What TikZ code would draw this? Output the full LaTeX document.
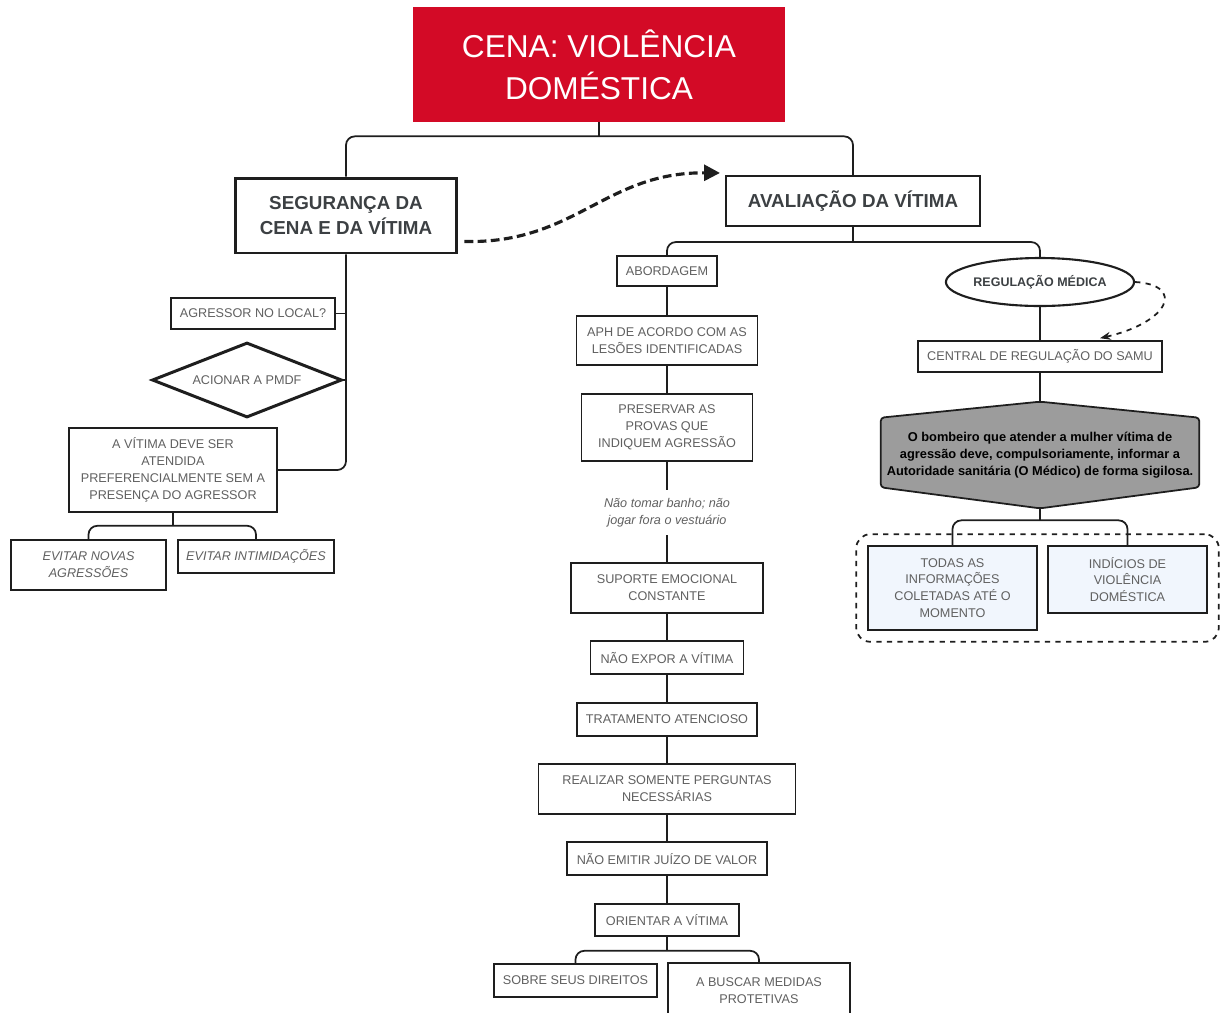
\documentclass[tikz,border=0pt]{standalone}
\usepackage{fontspec}
\setmainfont{Liberation Sans}
\usetikzlibrary{arrows.meta, positioning, shapes.geometric, calc, fit, backgrounds}

\definecolor{cenared}{HTML}{D30A26}
\definecolor{txtgray}{HTML}{606060}
\definecolor{headgray}{HTML}{3C4043}
\definecolor{hexgray}{HTML}{9C9C9C}
\definecolor{paleblue}{HTML}{F1F6FD}
\definecolor{linec}{HTML}{1E1E1E}

\newcommand{\lblfont}{\fontsize{7.2}{9.6}\selectfont}
\newcommand{\headfont}{\fontsize{10.7}{14.7}\selectfont\bfseries}

\begin{document}
\begin{tikzpicture}[x=0.02cm, y=-0.02cm, >=Stealth,
  lbl/.style={draw=linec, line width=0.9pt, fill=white, font=\lblfont,
              text=txtgray, align=center, inner sep=1pt},
  head/.style={draw=linec, line width=1.7pt, fill=white, font=\headfont,
               text=headgray, align=center},
  conn/.style={draw=linec, line width=1pt},
  elbow/.style={conn, rounded corners=5pt}]

  \useasboundingbox (0,0) rectangle (1220,1012);
  \clip (0,0) rectangle (1220,1012);

  % title and the two main branches
  \node[fill=cenared, minimum width=7.44cm, minimum height=2.3cm,
        text=white, font=\fontsize{18}{23.8}\selectfont,
        align=center] (title) at (599,64.5) {CENA: VIOLÊNCIA\\DOMÉSTICA};
  \node[head, minimum width=4.44cm, minimum height=1.5cm] (seg)
    at (346,215.5) {SEGURANÇA DA\\CENA E DA VÍTIMA};
  \node[head, line width=1.2pt, minimum width=5.08cm,
        minimum height=1cm] (aval) at (853,201) {AVALIAÇÃO DA VÍTIMA};

  % left column
  \node[lbl, minimum width=3.28cm, minimum height=0.62cm] (agr)
    at (253,313.5) {AGRESSOR NO LOCAL?};
  \node[lbl, diamond, aspect=2.5, line width=1.7pt, minimum width=3.8cm,
        minimum height=1.5cm, inner sep=0pt] (pmdf)
    at (247,380) {ACIONAR A PMDF};
  \node[lbl, minimum width=4.16cm, minimum height=1.68cm] (vit)
    at (173,470)
    {A VÍTIMA DEVE SER\\ATENDIDA\\PREFERENCIALMENTE SEM A\\PRESENÇA DO AGRESSOR};
  \node[lbl, font=\lblfont\itshape, minimum width=3.1cm,
        minimum height=1cm] (evn) at (88.5,565) {EVITAR NOVAS\\AGRESSÕES};
  \node[lbl, font=\lblfont\itshape, minimum width=3.12cm,
        minimum height=0.66cm] (evi) at (256,556.5) {EVITAR INTIMIDAÇÕES};

  % middle column
  \node[lbl, minimum width=2cm, minimum height=0.6cm] (abord)
    at (667,271) {ABORDAGEM};
  \node[lbl, minimum width=3.62cm, minimum height=0.98cm] (aph)
    at (667,340.5) {APH DE ACORDO COM AS\\LESÕES IDENTIFICADAS};
  \node[lbl, minimum width=3.42cm, minimum height=1.34cm] (pres)
    at (667,427.5) {PRESERVAR AS\\PROVAS QUE\\INDIQUEM AGRESSÃO};
  \node[font=\lblfont\itshape, text=txtgray, align=center,
        minimum height=0.9cm, inner sep=0pt] (nota)
    at (667,512.5) {Não tomar banho; não\\jogar fora o vestuário};
  \node[lbl, minimum width=3.84cm, minimum height=1cm] (sup)
    at (667,588) {SUPORTE EMOCIONAL\\CONSTANTE};
  \node[lbl, minimum width=3.06cm, minimum height=0.66cm] (nexp)
    at (667,657.5) {NÃO EXPOR A VÍTIMA};
  \node[lbl, minimum width=3.6cm, minimum height=0.66cm] (trat)
    at (667,719.5) {TRATAMENTO ATENCIOSO};
  \node[lbl, minimum width=5.14cm, minimum height=1cm] (real)
    at (667,789) {REALIZAR SOMENTE PERGUNTAS\\NECESSÁRIAS};
  \node[lbl, minimum width=4cm, minimum height=0.66cm] (nemi)
    at (667,858.5) {NÃO EMITIR JUÍZO DE VALOR};
  \node[lbl, minimum width=2.88cm, minimum height=0.64cm] (ori)
    at (667,920) {ORIENTAR A VÍTIMA};
  \node[lbl, minimum width=3.26cm, minimum height=0.66cm] (sobre)
    at (575.5,980.5) {SOBRE SEUS DIREITOS};
  \node[lbl, minimum width=3.64cm, minimum height=1.12cm] (busc)
    at (759,991) {A BUSCAR MEDIDAS\\PROTETIVAS};

  % right column
  \node[head, ellipse, line width=1.2pt,
        font=\fontsize{7.1}{9}\selectfont\bfseries, minimum width=3.72cm,
        minimum height=0.96cm, inner sep=0pt] (reg)
    at (1040,282) {REGULAÇÃO MÉDICA};
  \node[lbl, minimum width=4.88cm, minimum height=0.62cm] (cent)
    at (1040,356.5) {CENTRAL DE REGULAÇÃO DO SAMU};
  \node[font=\fontsize{7.3}{9.6}\selectfont\bfseries, text=black,
        align=center, minimum width=6.36cm, minimum height=2.12cm,
        inner sep=0pt] (hex) at (1040,455)
    {O bombeiro que atender a mulher vítima de\\agressão deve,
     compulsoriamente, informar a\\Autoridade sanitária (O Médico) de
     forma sigilosa.};
  \begin{scope}[on background layer]
    \draw[draw=linec, fill=hexgray, line width=1pt, rounded corners=2pt]
      ($(hex.north west)+(0,16)$) -- (hex.north)
      -- ($(hex.north east)+(0,16)$) -- ($(hex.south east)+(0,-21)$)
      -- (hex.south) -- ($(hex.south west)+(0,-21)$) -- cycle;
  \end{scope}
  \node[lbl, fill=paleblue, minimum width=3.38cm, minimum height=1.68cm]
    (todas) at (952.5,588)
    {TODAS AS\\INFORMAÇÕES\\COLETADAS ATÉ O\\MOMENTO};
  \node[lbl, fill=paleblue, minimum width=3.18cm, minimum height=1.34cm]
    (ind) at (1127.5,579.5) {INDÍCIOS DE\\VIOLÊNCIA\\DOMÉSTICA};
  \node[draw=linec, dashed, line width=1pt, rounded corners=8pt,
        fit=(todas)(ind), inner sep=0.22cm] (grp) {};

  % connectors
  \draw[conn] (title.south) -- ++(0,14) coordinate (tj);
  \draw[elbow] (seg.north) |- (tj) -| (aval.north);
  \draw[linec, line width=1.8pt, dash pattern=on 5pt off 2.5pt,
        -{Triangle[length=9pt, width=9pt]}]
    ($(seg.south east)+(6,-13)$) .. controls (575,244) and (605,172)
    .. ($(aval.north west)+(-5,-2)$);

  \draw[elbow] (seg.south) |- (vit.east);
  \draw[conn] (agr.east) -- (agr.east -| seg.south);
  \draw[conn] (pmdf.east) -- (pmdf.east -| seg.south);
  \draw[conn] (vit.south) -- ++(0,13) coordinate (vj);
  \draw[elbow] (evn.north) |- (vj) -| (evi.north);

  \draw[conn] (aval.south) -- ++(0,15) coordinate (aj);
  \draw[elbow] (abord.north) |- (aj) -| (reg.north);
  \draw[conn] (abord) -- (aph);
  \draw[conn] (aph) -- (pres);
  \draw[conn] (pres) -- (nota);
  \draw[conn] (nota) -- (sup);
  \draw[conn] (sup) -- (nexp);
  \draw[conn] (nexp) -- (trat);
  \draw[conn] (trat) -- (real);
  \draw[conn] (real) -- (nemi);
  \draw[conn] (nemi) -- (ori);
  \draw[conn] (ori.south) -- ++(0,14) coordinate (oj);
  \draw[elbow] (sobre.north) |- (oj) -| (busc.north);

  \draw[conn] (reg) -- (cent);
  \draw[linec, line width=1pt, dashed, -{Stealth[length=6pt]}]
    (reg.east) .. controls (1185,285) and (1170,322)
    .. ($(cent.north)+(60,-2)$);
  \draw[conn] (cent.south) -- (hex.north);
  \draw[conn] (hex.south) -- ++(0,12) coordinate (hj);
  \draw[elbow] (todas.north) |- (hj) -| (ind.north);
\end{tikzpicture}
\end{document}
